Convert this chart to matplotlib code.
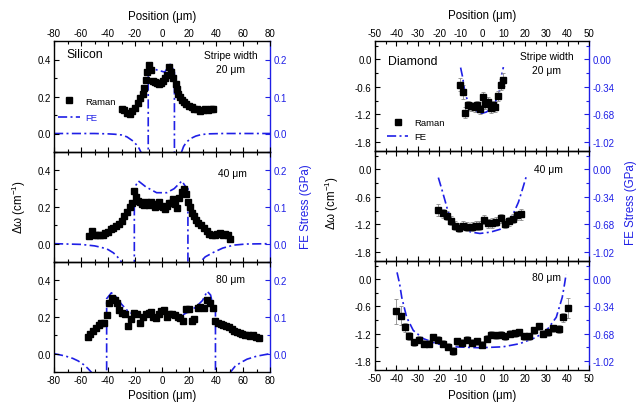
import matplotlib
matplotlib.use('Agg')
import matplotlib.pyplot as plt
from matplotlib.ticker import MultipleLocator, FixedLocator, FixedFormatter
from matplotlib.lines import Line2D

plt.rcParams['font.family'] = ['Liberation Sans', 'DejaVu Sans']
plt.rcParams['mathtext.fontset'] = 'custom'
plt.rcParams['mathtext.rm'] = 'Liberation Sans'
plt.rcParams['mathtext.it'] = 'Liberation Sans:italic'
plt.rcParams['axes.unicode_minus'] = False

# ---------------- Silicon data (Raman in cm^-1, FE in GPa) ----------------
si20_x = [-30,-28,-26,-24,-22,-20,-18,-16,-14,-13,-12,-11,-9.5,-8,-6.5,-5,-3.5,-2,-0.5,
          1,2.5,4,5.5,7,8.5,10,11,12,13.5,15,16.5,18,20,22,24,26,28,30,32,34,36,38]
si20_y = [0.13,0.125,0.112,0.108,0.122,0.14,0.165,0.19,0.215,0.245,0.29,0.33,0.37,0.345,0.285,0.28,0.272,0.268,0.275,
          0.285,0.3,0.315,0.362,0.33,0.3,0.27,0.24,0.215,0.195,0.18,0.17,0.16,0.15,0.145,0.135,0.13,0.12,0.125,0.13,0.128,0.13,0.132]

si40_x = [-54,-52,-50,-48,-46,-44,-42,-40,-38,-36,-34,-32,-30,-28,-26,-24,-22,
          -20.5,-19,-17.5,-16,-14.5,-13,-11.5,-10,-8.5,-7,-5.5,-4,-2.5,-1,0.5,2,3.5,5,6.5,8,9.5,11,12.5,
          14.5,16,17.5,19,20.5,22,23.5,25,27,29,31,33,35,37,39,41,43,45,47,49,50.5]
si40_y = [0.042,0.07,0.05,0.05,0.048,0.045,0.06,0.065,0.078,0.085,0.096,0.11,0.124,0.15,0.175,0.2,0.224,
          0.29,0.255,0.235,0.225,0.215,0.21,0.225,0.21,0.23,0.215,0.2,0.21,0.225,0.205,0.2,0.19,0.205,0.22,0.22,0.245,0.215,0.195,0.25,
          0.28,0.3,0.27,0.225,0.2,0.17,0.15,0.13,0.115,0.1,0.085,0.07,0.055,0.05,0.05,0.055,0.06,0.05,0.055,0.045,0.025]

si80_x = [-55,-53,-51,-49,-47,-45,-43,-41,-39,-37,-35,-33,-31.5,-29.5,-27.5,-25.5,-23,-21,-18.5,-16,-14,-12,-10,
          -8.5,-6.5,-4.5,-2.5,-0.5,1.5,3.5,5.5,7.5,9.5,11.5,13.5,15.5,18,20,22,24,26.5,28.5,31,33.5,35.5,37.5,39.5,
          41.5,43.5,45.5,47.5,49.5,51.5,53.5,55.5,57.5,59.5,61.5,63.5,65.5,67.5,69.5,71.5]
si80_y = [0.089,0.106,0.125,0.14,0.155,0.165,0.17,0.21,0.276,0.303,0.295,0.275,0.24,0.22,0.215,0.15,0.19,0.22,0.215,0.165,0.2,0.215,0.22,
          0.23,0.2,0.195,0.215,0.235,0.24,0.2,0.215,0.215,0.21,0.2,0.195,0.18,0.245,0.245,0.18,0.19,0.25,0.255,0.25,0.292,0.275,0.25,0.18,
          0.165,0.16,0.155,0.15,0.145,0.135,0.125,0.12,0.115,0.11,0.1,0.1,0.095,0.1,0.09,0.088]
si_err = 0.013

fe_si20_x = [-80,-50,-40,-35,-30,-26,-22,-19,-17,-15,-13,-11.5,-10.2,-10.2,-9,-4,2,6,8.5,9.2,
             9.2,10.5,12,14,16,18,21,25,29,34,45,60,80]
fe_si20_y = [0,0,-0.001,-0.002,-0.004,-0.009,-0.019,-0.03,-0.04,-0.055,-0.075,-0.1,-0.2,0.16,0.18,0.172,0.166,0.187,0.172,0.165,
             -0.2,-0.1,-0.075,-0.055,-0.035,-0.024,-0.014,-0.007,-0.003,-0.001,0,0,0]

fe_si40_x = [-80,-60,-50,-45,-40,-36,-33,-30,-27,-24,-22,-20.5,-20.5,-17.5,-12,-4,3.5,9,14.7,17.2,19.2,
             19.2,21,23,26,28.4,32,38,45,53,62,80]
fe_si40_y = [0,-0.002,-0.006,-0.01,-0.016,-0.025,-0.036,-0.05,-0.07,-0.1,-0.14,-0.2,0.152,0.171,0.155,0.139,0.139,0.15,0.171,0.157,0.15,
             -0.2,-0.14,-0.09,-0.06,-0.05,-0.036,-0.024,-0.012,-0.004,-0.001,0]

fe_si80_x = [-80,-72,-66,-62,-58,-55,-52.5,-49,-46,-43,-41,-41,-37.5,-34,-30,-25,-20,-10,0,10,15,20,25,30,33.5,36,38,39.6,
             39.6,41,44,47,50.8,54,58,63,70,80]
fe_si80_y = [0,-0.006,-0.013,-0.02,-0.03,-0.04,-0.05,-0.07,-0.09,-0.13,-0.2,0.15,0.166,0.155,0.135,0.115,0.105,0.1,0.1,0.1,0.105,0.115,0.127,0.145,0.17,0.16,0.125,0.12,
             -0.2,-0.13,-0.09,-0.07,-0.05,-0.035,-0.025,-0.015,-0.007,0]

# ---------------- Diamond data ----------------
d20_x = [-10.3,-9,-7.8,-6.4,-5,-3.5,-2.2,-1,0.3,1.6,2.8,4,5.1,6.3,7.6,8.9,10]
d20_y = [-0.55,-0.72,-1.16,-1.0,-1.02,-1.05,-1.0,-1.09,-0.82,-0.98,-0.92,-1.07,-1.0,-1.04,-0.8,-0.55,-0.44]
d20_err = [0.15,0.15,0.12,0.1,0.1,0.1,0.1,0.1,0.1,0.1,0.1,0.1,0.1,0.1,0.1,0.12,0.15]

d40_x = [-20.4,-18.4,-16.5,-14.6,-12.6,-10.7,-8.8,-6.8,-4.9,-3,-1.2,1.1,3,4.9,6.5,8.9,10.7,12.8,14.6,16.5,18.4]
d40_y = [-0.89,-0.96,-1.01,-1.12,-1.23,-1.27,-1.23,-1.25,-1.25,-1.23,-1.23,-1.10,-1.18,-1.17,-1.14,-1.07,-1.19,-1.13,-1.08,-1.0,-0.98]
d40_err = [0.13,0.1,0.1,0.1,0.1,0.1,0.1,0.1,0.1,0.1,0.1,0.1,0.1,0.1,0.1,0.1,0.1,0.1,0.1,0.1,0.12]

d80_x = [-40.2,-38,-36,-34,-31.6,-29.3,-27.1,-24.9,-22.7,-20.4,-18,-16,-13.7,-11.5,-9.2,-6.9,-4.7,-2.5,-0.1,
         2.2,4.2,6.4,8.8,10.9,13.1,15.3,17.4,19.7,22,24.2,26.5,28.7,31,33.3,35.8,38,40.3]
d80_y = [-0.71,-0.80,-1.06,-1.26,-1.39,-1.33,-1.42,-1.42,-1.28,-1.33,-1.42,-1.49,-1.58,-1.37,-1.40,-1.33,-1.40,-1.37,-1.44,
         -1.31,-1.22,-1.24,-1.22,-1.26,-1.2,-1.19,-1.17,-1.26,-1.26,-1.13,-1.04,-1.2,-1.17,-1.08,-1.1,-0.84,-0.63]
d80_err = [0.28,0.2,0.1,0.09,0.08,0.08,0.08,0.08,0.08,0.08,0.08,0.08,0.08,0.08,0.08,0.08,0.08,0.08,0.08,
           0.08,0.08,0.08,0.08,0.08,0.08,0.08,0.08,0.08,0.08,0.08,0.08,0.08,0.08,0.08,0.09,0.1,0.22]

fe_d20_x = [-10,-9,-7.9,-5.6,-3,-0.9,2,5.3,8.1,9.2,10]
fe_d20_y = [-0.102,-0.227,-0.431,-0.578,-0.640,-0.674,-0.652,-0.595,-0.391,-0.187,-0.096]

fe_d40_x = [-20.4,-19,-17.3,-16,-14.2,-12,-8.7,-5,-1,4,8.4,11,13.1,15,17,19,20.6]
fe_d40_y = [-0.102,-0.227,-0.385,-0.51,-0.635,-0.691,-0.742,-0.776,-0.793,-0.776,-0.742,-0.691,-0.635,-0.527,-0.408,-0.238,-0.096]

fe_d80_x = [-39.7,-38.5,-37.5,-35.2,-32.1,-27.4,-21.2,-13.4,-1,9.8,17.6,25.4,30.8,34.7,37.5,38.6,39.3]
fe_d80_y = [0.085,-0.057,-0.227,-0.476,-0.640,-0.742,-0.805,-0.844,-0.856,-0.844,-0.805,-0.725,-0.618,-0.476,-0.227,-0.057,0.062]

widths = ["Stripe width\n20 \u03bcm", "40 \u03bcm", "80 \u03bcm"]

si_left_ticks = [0.0, 0.2, 0.4]
si_left_labels = ["0.0", "0.2", "0.4"]
si_right_ticks = [0.0, 0.1, 0.2]
si_right_labels = ["0.0", "0.1", "0.2"]
d_left_ticks = [0.0, -0.6, -1.2, -1.8]
d_left_labels = ["0.0", "-0.6", "-1.2", "-1.8"]
d_right_ticks = [0.0, -0.34, -0.68, -1.02]
d_right_labels = ["0.00", "-0.34", "-0.68", "-1.02"]

# ---------------- Figure ----------------
W, H = 639, 406
fig = plt.figure(figsize=(W / 100, H / 100), dpi=100)
BLUE = '#1f1fe6'
TICKFS = 7.0
LABFS = 8.3

def rect(l, r, t, b):
    return [l / W, 1 - b / H, (r - l) / W, (b - t) / H]

def make_panel(rc, xlim, xmaj, xmin, ylim, lt, ll, lmin, y2lim, rt, rl, rmin,
               rx, ry, ryerr, fx, fy, pos):
    ax = fig.add_axes(rc)
    ax2 = ax.twinx()
    ax.set_xlim(*xlim)
    ax.set_ylim(*ylim)
    ax2.set_ylim(*y2lim)
    ax.errorbar(rx, ry, yerr=ryerr, fmt='s', color='black', ms=3.9,
                ecolor='#8a8a8a', elinewidth=0.6, capsize=1.6, capthick=0.6, zorder=3)
    ax2.plot(fx, fy, color=BLUE, lw=1.2, ls=(0, (5.5, 2, 1.2, 2)), zorder=2)
    ax.set_zorder(ax2.get_zorder() + 1)
    ax.patch.set_visible(False)
    ax.xaxis.set_major_locator(MultipleLocator(xmaj))
    ax.xaxis.set_minor_locator(MultipleLocator(xmin))
    ax.yaxis.set_major_locator(FixedLocator(lt))
    ax.yaxis.set_major_formatter(FixedFormatter(ll))
    ax.yaxis.set_minor_locator(MultipleLocator(lmin))
    ax2.yaxis.set_major_locator(FixedLocator(rt))
    ax2.yaxis.set_major_formatter(FixedFormatter(rl))
    ax2.yaxis.set_minor_locator(MultipleLocator(rmin))
    ax.tick_params(which='both', direction='in', top=True, bottom=True, left=True, right=False,
                   labelsize=TICKFS, width=0.8, labeltop=(pos == 'top'), labelbottom=(pos == 'bottom'),
                   pad=2.5)
    ax.tick_params(which='major', length=3.5)
    ax.tick_params(which='minor', length=2)
    ax2.tick_params(which='both', direction='in', right=True, left=False, colors=BLUE,
                    labelsize=TICKFS, width=0.8, pad=2.5)
    ax2.tick_params(which='major', length=3.5)
    ax2.tick_params(which='minor', length=2)
    for s in ['left', 'top', 'bottom']:
        ax2.spines[s].set_visible(False)
        ax.spines[s].set_linewidth(1.0)
    ax.spines['right'].set_visible(False)
    ax2.spines['right'].set_color(BLUE)
    ax2.spines['right'].set_linewidth(1.0)
    return ax, ax2

# Silicon column
si_rows = [(42, 153), (153, 263), (263, 373)]
si_sets = [(si20_x, si20_y, fe_si20_x, fe_si20_y),
           (si40_x, si40_y, fe_si40_x, fe_si40_y),
           (si80_x, si80_y, fe_si80_x, fe_si80_y)]
pos_list = ['top', 'mid', 'bottom']
si_axes = []
for i, ((t, b), (rx, ry, fx, fy)) in enumerate(zip(si_rows, si_sets)):
    ax, ax2 = make_panel(rect(54, 270, t, b), (-80, 80), 20, 10, (-0.1, 0.5),
                         si_left_ticks, si_left_labels, 0.1, (-0.05, 0.25),
                         si_right_ticks, si_right_labels, 0.05,
                         rx, ry, si_err, fx, fy, pos_list[i])
    si_axes.append((ax, ax2))

# Diamond column
d_rows = [(42, 152), (152, 262), (262, 371)]
d_sets = [(d20_x, d20_y, d20_err, fe_d20_x, fe_d20_y),
          (d40_x, d40_y, d40_err, fe_d40_x, fe_d40_y),
          (d80_x, d80_y, d80_err, fe_d80_x, fe_d80_y)]
d_axes = []
for i, ((t, b), (rx, ry, re, fx, fy)) in enumerate(zip(d_rows, d_sets)):
    ax, ax2 = make_panel(rect(375, 589, t, b), (-50, 50), 10, 5, (-2.0, 0.4),
                         d_left_ticks, d_left_labels, 0.3, (-2.0 * 0.34 / 0.6, 0.4 * 0.34 / 0.6),
                         d_right_ticks, d_right_labels, 0.17,
                         rx, ry, re, fx, fy, pos_list[i])
    d_axes.append((ax, ax2))

def fx_(px):
    return px / W

def fy_(py):
    return 1 - py / H

# Annotations
fig.text(fx_(66), fy_(55), "Silicon", fontsize=8.8, va='center', ha='left')
fig.text(fx_(231), fy_(63), widths[0], fontsize=7.4, va='center', ha='center', linespacing=1.45)
fig.text(fx_(232), fy_(174), widths[1], fontsize=7.4, va='center', ha='center')
fig.text(fx_(231), fy_(280), widths[2], fontsize=7.4, va='center', ha='center')

fig.text(fx_(388), fy_(62), "Diamond", fontsize=8.8, va='center', ha='left')
fig.text(fx_(547), fy_(64), widths[0], fontsize=7.4, va='center', ha='center', linespacing=1.45)
fig.text(fx_(548), fy_(170), widths[1], fontsize=7.4, va='center', ha='center')
fig.text(fx_(546), fy_(278), widths[2], fontsize=7.4, va='center', ha='center')

# Axis labels
fig.text(fx_(162), fy_(17), "Position (\u03bcm)", fontsize=LABFS, ha='center', va='center')
fig.text(fx_(162), fy_(396), "Position (\u03bcm)", fontsize=LABFS, ha='center', va='center')
fig.text(fx_(482), fy_(16), "Position (\u03bcm)", fontsize=LABFS, ha='center', va='center')
fig.text(fx_(482), fy_(396), "Position (\u03bcm)", fontsize=LABFS, ha='center', va='center')

fig.text(fx_(19), fy_(207), "\u0394\u03c9 (cm$^{-1}$)", fontsize=LABFS, rotation=90, ha='center', va='center')
fig.text(fx_(306), fy_(207), "FE Stress (GPa)", fontsize=LABFS, rotation=90, ha='center', va='center', color=BLUE)
fig.text(fx_(332), fy_(203), "\u0394\u03c9 (cm$^{-1}$)", fontsize=LABFS, rotation=90, ha='center', va='center')
fig.text(fx_(631), fy_(203), "FE Stress (GPa)", fontsize=LABFS, rotation=90, ha='center', va='center', color=BLUE)

# Legends
raman_h = Line2D([], [], marker='s', color='black', ls='none', ms=3.9)
fe_h = Line2D([], [], color=BLUE, lw=1.2, ls=(0, (5.5, 2, 1.2, 2)))
leg1 = si_axes[0][0].legend([raman_h, fe_h], ["Raman", "FE"], loc='center left',
                            bbox_to_anchor=(0.02, 0.385), frameon=False, fontsize=6.8,
                            handlelength=2.3, handletextpad=0.6, labelspacing=0.75,
                            borderpad=0, borderaxespad=0)
leg1.get_texts()[1].set_color(BLUE)
leg2 = d_axes[0][0].legend([raman_h, fe_h], ["Raman", "FE"], loc='center left',
                           bbox_to_anchor=(0.055, 0.195), frameon=False, fontsize=6.8,
                           handlelength=2.3, handletextpad=0.6, labelspacing=0.55,
                           borderpad=0, borderaxespad=0)

fig.savefig("out.png", dpi=100)
